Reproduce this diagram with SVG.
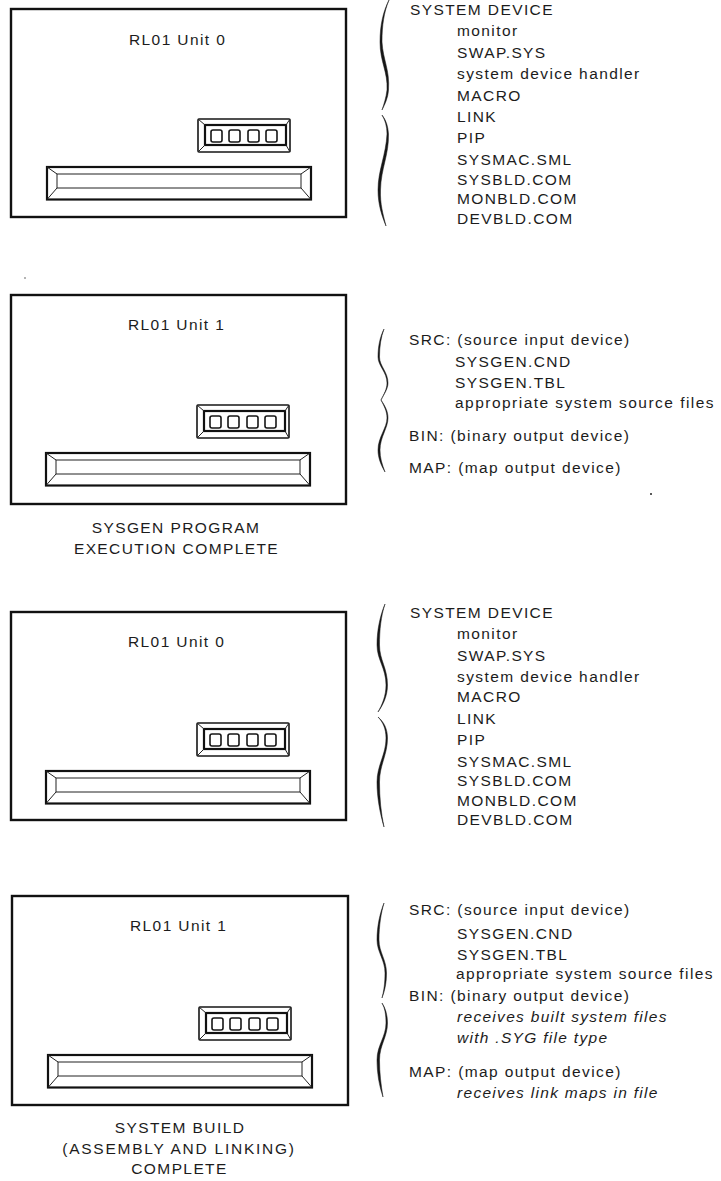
<svg xmlns="http://www.w3.org/2000/svg" xmlns:xlink="http://www.w3.org/1999/xlink" width="721" height="1181" viewBox="0 0 721 1181">
<style>
text{font-family:"Liberation Sans",Arial,sans-serif;font-size:15.5px;letter-spacing:1.4px;fill:#1c1c1c}
.c{text-anchor:middle}
.w{letter-spacing:1.75px}
.i{font-style:italic;letter-spacing:1.3px}
.panel{fill:#fff;stroke:#111;stroke-width:2.4}
.f{fill:none;stroke:#161616;stroke-width:1.6}
.t{fill:none;stroke:#111;stroke-width:2.2}
.b{fill:none;stroke:#222;stroke-width:1}
.br{fill:#161616;stroke:#161616;stroke-width:.5}
</style>
<defs>
<g id="drive">
<rect class="f" x="188" y="111" width="92" height="33" rx="1"/>
<rect class="t" x="195" y="117" width="81" height="20"/>
<path class="b" d="M188 111L195 117M280 111L276 117M188 144L195 137M280 144L276 137"/>
<rect class="f" x="201" y="122" width="11" height="12" rx="2"/>
<rect class="f" x="219" y="122" width="11" height="12" rx="2"/>
<rect class="f" x="238" y="122" width="11" height="12" rx="2"/>
<rect class="f" x="256" y="122" width="11" height="12" rx="2"/>
<rect class="t" x="37" y="159" width="264" height="32.500"/>
<rect class="b" x="47" y="166" width="244" height="14"/>
<path class="b" d="M37 159L47 166M301 159L291 166M37 191.500L47 180M301 191.500L291 180"/>
</g>
</defs>
<g id="marks"><circle cx="25" cy="278" r=".8" fill="#555"/><circle cx="651" cy="494" r="1" fill="#222"/></g>
<g id="unit0-a">
<rect class="panel" x="11" y="9" width="335" height="208"/>
<use xlink:href="#drive" href="#drive" transform="translate(10 8)"/>
<text x="129" y="45">RL01 Unit 0</text>
</g>
<g id="unit1-a">
<rect class="panel" x="11" y="295" width="335" height="209"/>
<use xlink:href="#drive" href="#drive" transform="translate(9 294)"/>
<text x="128" y="330">RL01 Unit 1</text>
<text class="c" x="176" y="533">SYSGEN PROGRAM</text>
<text class="c" x="176.500" y="554">EXECUTION COMPLETE</text>
</g>
<g id="unit0-b">
<rect class="panel" x="11" y="612" width="335" height="208"/>
<use xlink:href="#drive" href="#drive" transform="translate(9 612)"/>
<text x="128" y="647">RL01 Unit 0</text>
</g>
<g id="unit1-b">
<rect class="panel" x="12" y="896" width="336" height="209"/>
<use xlink:href="#drive" href="#drive" transform="translate(11 896)"/>
<text x="130" y="931">RL01 Unit 1</text>
<text class="c" x="180" y="1133">SYSTEM BUILD</text>
<text class="c w" x="179" y="1154">(ASSEMBLY AND LINKING)</text>
<text class="c" x="179.500" y="1174">COMPLETE</text>
</g>
<g id="connectors">
<path class="br" d="M389 0C383 12 380 25 380 42C380 62 388 72 387 90C386 98 384 104 382 110C385 104 388 98 388.500 90C390 70 383 60 382 42C382 25 384 12 389 0Z"/>
<path class="br" d="M382 115C385 120 387 126 387 134C386 155 378 170 378 190C378 205 382 216 386 226C383 214 380 204 380.500 190C381 168 389 155 388.500 134C388 126 386 120 382 115Z"/>
<path class="br" d="M384 329C380 337 378 346 378 357C378 366 387 372 387 383C387 389 384 394 381 400C384 394 388 389 388 383C388 372 379.500 366 379.500 357C379.500 346 381 337 384 329Z"/>
<path class="br" d="M381 400C384 406 387 411 387 418C387 428 378 437 378 450C378 458 381 465 385 472C382 464 380 458 380 450C380 437 388 428 388 418C388 411 385 406 381 400Z"/>
<path class="br" d="M385 604C380 616 377 630 377 645C377 660 386 668 386 685C386 696 382 705 378 712C383 705 387.500 696 387.500 685C387.500 668 379.500 660 379.500 645C379.500 630 381 616 385 604Z"/>
<path class="br" d="M378 717C383 722 386 729 386 738C386 755 377 765 377 782C377 798 380 813 384 827C381 813 379.500 798 379.500 782C379.500 765 387.500 755 387.500 738C387.500 729 384 722 378 717Z"/>
<path class="br" d="M384 903C380 913 377 926 377 940C377 952 385 960 385 973C385 983 384 990 382 998C385 990 386.500 983 386.500 973C386.500 960 379 952 379 940C379 926 381 913 384 903Z"/>
<path class="br" d="M382 1003C385 1008 386 1015 386 1023C386 1037 377 1045 377 1060C377 1073 379 1085 383 1097C381 1085 379.500 1073 379.500 1060C379.500 1045 387.500 1037 387.500 1023C387.500 1015 385.500 1008 382 1003Z"/>
</g>
<g id="list-a">
<text x="410" y="15">SYSTEM DEVICE</text>
<text x="457" y="36">monitor</text>
<text x="457" y="58">SWAP.SYS</text>
<text x="457" y="79">system device handler</text>
<text x="457" y="101">MACRO</text>
<text x="457" y="122">LINK</text>
<text x="457" y="143">PIP</text>
<text x="457" y="165">SYSMAC.SML</text>
<text x="457" y="185">SYSBLD.COM</text>
<text x="457" y="204">MONBLD.COM</text>
<text x="457" y="224">DEVBLD.COM</text>
</g>
<g id="list-b">
<text x="409" y="345">SRC: (source input device)</text>
<text x="455" y="367">SYSGEN.CND</text>
<text x="455" y="388">SYSGEN.TBL</text>
<text class="w" x="455" y="408" style="letter-spacing:1.47px">appropriate system source files</text>
<text x="409" y="441">BIN: (binary output device)</text>
<text x="409" y="473">MAP: (map output device)</text>
</g>
<g id="list-c">
<text x="410" y="618">SYSTEM DEVICE</text>
<text x="457" y="639">monitor</text>
<text x="457" y="661">SWAP.SYS</text>
<text x="457" y="682">system device handler</text>
<text x="457" y="702">MACRO</text>
<text x="457" y="724">LINK</text>
<text x="457" y="745">PIP</text>
<text x="457" y="767">SYSMAC.SML</text>
<text x="457" y="786">SYSBLD.COM</text>
<text x="457" y="806">MONBLD.COM</text>
<text x="457" y="825">DEVBLD.COM</text>
</g>
<g id="list-d">
<text x="409" y="915">SRC: (source input device)</text>
<text x="457" y="939">SYSGEN.CND</text>
<text x="457" y="960">SYSGEN.TBL</text>
<text x="456" y="979">appropriate system source files</text>
<text x="409" y="1001">BIN: (binary output device)</text>
<text class="i" x="457" y="1022">receives built system files</text>
<text class="i" x="457" y="1043">with .SYG file type</text>
<text x="409" y="1077">MAP: (map output device)</text>
<text class="i" x="457" y="1098">receives link maps in file</text>
</g>
</svg>
